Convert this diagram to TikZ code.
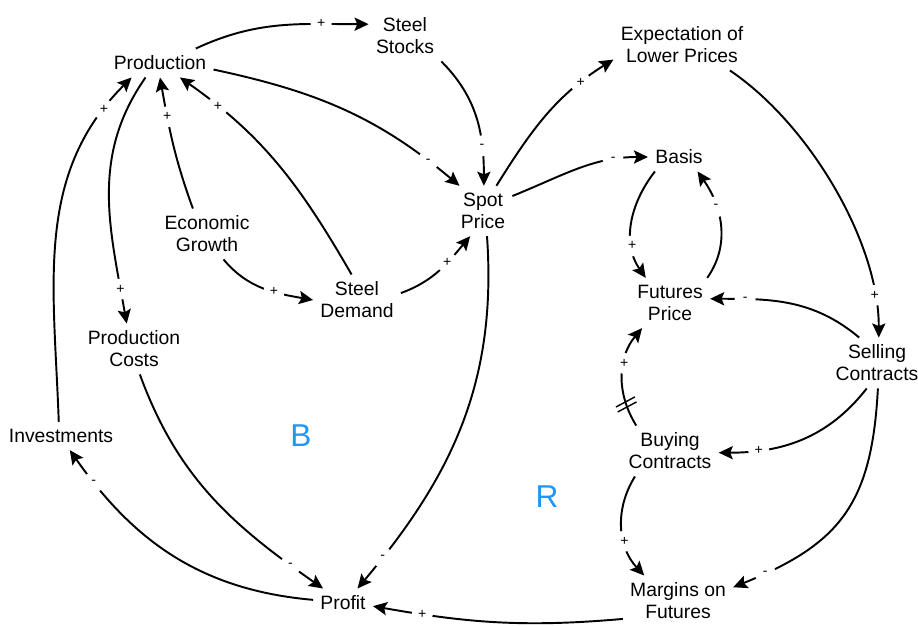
\documentclass[tikz,border=0pt]{standalone}
\usepackage{fontspec}
\setmainfont{Liberation Sans}
\usetikzlibrary{arrows.meta,decorations.markings}

\definecolor{loopblue}{RGB}{33,150,243}

\tikzset{
	var/.style={font=\fontsize{11}{12.5}\selectfont, align=center, inner sep=4pt},
	lbl/.style={font=\fontsize{18}{20}\selectfont, text=loopblue},
	sign/.style={circle, fill=white, inner sep=0pt, minimum size=12pt, font=\fontsize{8}{9}\selectfont},
	link/.style={line width=1.1pt, -{Stealth[length=8pt,width=7.5pt,inset=1.5pt]}},
	sgn/.style 2 args={postaction={decorate,decoration={markings,mark=at position -#2 with {\node[sign]{#1};}}}},
	incr/.style={sgn={+}{#1}}, incr/.default=0.8cm,
	decr/.style={sgn={-}{#1}}, decr/.default=0.8cm,
	delay/.style={postaction={decorate,decoration={markings,mark=at position 0.45cm with {\draw[-,line width=0.8pt] (0pt,-6pt) -- (-2pt,6pt) (3pt,-6pt) -- (1pt,6pt);}}}}
}

\begin{document}
\begin{tikzpicture}[x=0.02cm, y=0.02cm]
	\useasboundingbox (0,0) rectangle (918,625);
	\node[var] (prod) at (160,562) {Production};
	\node[var] (stocks) at (405,589) {Steel\\Stocks};
	\node[var] (expect) at (682,580) {Expectation of\\Lower Prices};
	\node[var] (spot) at (483,414) {Spot\\Price};
	\node[var] (basis) at (679,468) {Basis};
	\node[var] (econ) at (207,391) {Economic\\Growth};
	\node[var] (demand) at (357,325) {Steel\\Demand};
	\node[var] (futures) at (670,322) {Futures\\Price};
	\node[var] (costs) at (134,276) {Production\\Costs};
	\node[var] (selling) at (877,262) {Selling\\Contracts};
	\node[var] (invest) at (61,189) {Investments};
	\node[var] (buying) at (670,174) {Buying\\Contracts};
	\node[var] (profit) at (343,22) {Profit};
	\node[var] (margins) at (678,24) {Margins on\\Futures};
	\node[lbl] (bal) at (301,189) {B};
	\node[lbl] (rein) at (547,128) {R};

	\draw[link,incr=0.95cm] (prod.22) to[out=25,in=180] (stocks.162);
	\draw[link,decr] (stocks.-35) to[out=-45,in=90] (spot.88);
	\draw[link,decr] (prod.-7) to[out=-12,in=140] (spot.133);
	\draw[link,incr] (econ.119) to[out=110,in=-80] (prod.-90);
	\draw[link,incr=0.95cm] (demand.102) to[out=120,in=-35] (prod.-36);
	\draw[link,incr] (econ.-57) to[out=-50,in=170] (demand.180);
	\draw[link,incr=0.7cm] (demand.9) to[out=20,in=-130] (spot.-117);
	\draw[link,incr=0.7cm] (prod.-135) to[out=-125,in=100] (costs.106);
	\draw[link,incr=0.85cm] (invest.99) to[out=92,in=-135] (prod.-153);
	\draw[link,decr] (costs.-77) to[out=-70,in=145] (profit.144);
	\draw[link,decr] (spot.-81) to[out=-86,in=50] (profit.45);
	\draw[link,decr] (profit.174) to[out=175,in=-55] (invest.-58);
	\draw[link,incr=1cm] (margins.-162) to[out=-175,in=-10] (profit.-6);
	\draw[link,incr] (spot.62) to[out=58,in=-148] (expect.-168);
	\draw[link,decr=0.7cm] (spot.27) to[out=22,in=180] (basis.180);
	\draw[link,incr=0.7cm] (basis.-149) to[out=-128,in=125] (futures.134);
	\draw[link,decr] (futures.34) to[out=55,in=-55] (basis.-38);
	\draw[link,incr=0.85cm] (expect.-28) to[out=-34,in=90,looseness=0.8] (selling.86);
	\draw[link,decr=0.7cm] (selling.125) to[out=140,in=0] (futures.6);
	\draw[link,incr,delay] (buying.143) to[out=122,in=-130] (futures.-138);
	\draw[link,incr] (selling.-112) to[out=-128,in=0] (buying.-2);
	\draw[link,decr=0.7cm] (selling.-88) to[out=-93,in=22,looseness=1.2] (margins.14);
	\draw[link,incr] (buying.-144) to[out=-122,in=133] (margins.143);
\end{tikzpicture}
\end{document}
